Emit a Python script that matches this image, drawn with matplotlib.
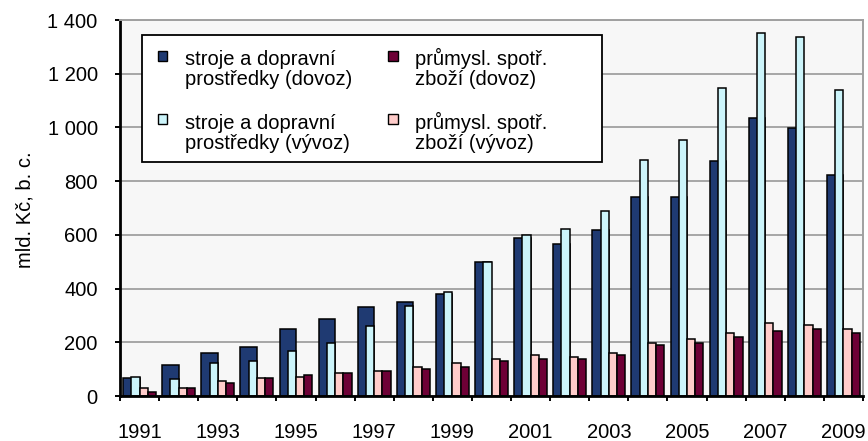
import numpy as np
import matplotlib
matplotlib.use("Agg")
import matplotlib.pyplot as plt
from matplotlib.patches import Rectangle

plt.rcParams['font.family'] = ['Liberation Sans', 'DejaVu Sans']

years = list(range(1991, 2010))
stroje_dovoz = [66, 115, 159, 181, 249, 285, 330, 351, 380, 498, 587, 565, 617, 742, 742, 874, 1035, 999, 823]
stroje_vyvoz = [72, 63, 122, 131, 168, 196, 261, 336, 388, 498, 601, 623, 689, 880, 954, 1146, 1352, 1337, 1139]
spotr_vyvoz = [29, 28, 57, 66, 72, 86, 94, 108, 124, 138, 153, 145, 160, 196, 211, 235, 271, 263, 248]
spotr_dovoz = [14, 28, 50, 66, 78, 87, 94, 100, 109, 132, 138, 138, 153, 190, 197, 219, 242, 249, 236]

yticks = [0, 200, 400, 600, 800, 1000, 1200, 1400]
ytick_labels = ["0", "200", "400", "600", "800", "1 000", "1 200", "1 400"]
ylabel = "mld. Kč, b. c."

legend_labels = [
    ["stroje a dopravní", "prostředky (dovoz)"],
    ["průmysl. spotř.", "zboží (dovoz)"],
    ["stroje a dopravní", "prostředky (vývoz)"],
    ["průmysl. spotř.", "zboží (vývoz)"],
]

c_blue = "#1F3A72"
c_cyan = "#CCF4FA"
c_pink = "#FFCCCA"
c_maroon = "#6E0036"
legend_colors = [c_blue, c_maroon, c_cyan, c_pink]

W, H = 868, 441
fig = plt.figure(figsize=(W / 100, H / 100), dpi=100)
ax = fig.add_axes([120 / W, 45 / H, 743 / W, 376 / H])
ax.set_facecolor("#F7F7F7")

x = np.arange(len(years))
w = 0.21
start = -0.42
ek = dict(edgecolor="black", linewidth=1.1, zorder=2, align="edge")
ax.bar(x + start, stroje_dovoz, width=2 * w, color=c_blue, **ek)
ax.bar(x + start + w, stroje_vyvoz, width=w, color=c_cyan, **ek)
ax.bar(x + start + 2 * w, spotr_vyvoz, width=w, color=c_pink, **ek)
ax.bar(x + start + 3 * w, spotr_dovoz, width=w, color=c_maroon, **ek)

ax.set_xlim(-0.5, len(years) - 0.5)
ax.set_ylim(0, 1400)
ax.yaxis.grid(True, color="#A0A0A0", linewidth=1.3)
ax.set_axisbelow(True)

ax.set_yticks(yticks)
ax.set_yticklabels(ytick_labels)
ax.tick_params(axis="y", direction="out", length=3.6, width=1.4, pad=12.5,
               labelsize=14.5, colors="black")

ax.set_xticks(np.arange(-0.5, len(years), 1.0))
ax.set_xticklabels([])
ax.tick_params(axis="x", which="major", direction="out", length=3.6, width=1.4)
ax.set_xticks(x[::2], minor=True)
ax.set_xticklabels([str(y) for y in years[::2]], minor=True)
ax.tick_params(axis="x", which="minor", length=0, pad=19.5, labelsize=14.5)

for s in ["left", "bottom"]:
    ax.spines[s].set_color("black")
    ax.spines[s].set_linewidth(2.0)
for s in ["top", "right"]:
    ax.spines[s].set_color("#A0A0A0")
    ax.spines[s].set_linewidth(1.4)

ax.set_ylabel(ylabel, fontsize=14.5)
ax.yaxis.set_label_coords(-0.115, 0.495)

def fx(px):
    return px / W

def fy(py):
    return 1 - py / H

# legend box
fig.add_artist(Rectangle((fx(142), fy(162)), fx(601.5) - fx(142), fy(35) - fy(162),
                         transform=fig.transFigure, facecolor="white",
                         edgecolor="black", linewidth=1.3, zorder=5))
col_marker_x = [162.5, 393]
col_text_x = [185, 415]
row_marker_y = [56, 119]
row_baselines = [[65, 85], [129, 149]]
for i, (lab, col) in enumerate(zip(legend_labels, legend_colors)):
    r, c = divmod(i, 2)
    mx, my = col_marker_x[c], row_marker_y[r]
    s = 9.5
    fig.add_artist(Rectangle((fx(mx - s / 2), fy(my + s / 2)), s / W, s / H,
                             transform=fig.transFigure, facecolor=col,
                             edgecolor="black", linewidth=1.0, zorder=6))
    for line, by in zip(lab, row_baselines[r]):
        fig.text(fx(col_text_x[c]), fy(by), line, fontsize=14.5, va="baseline",
                 ha="left", zorder=7)

fig.savefig("out.png", dpi=100)
